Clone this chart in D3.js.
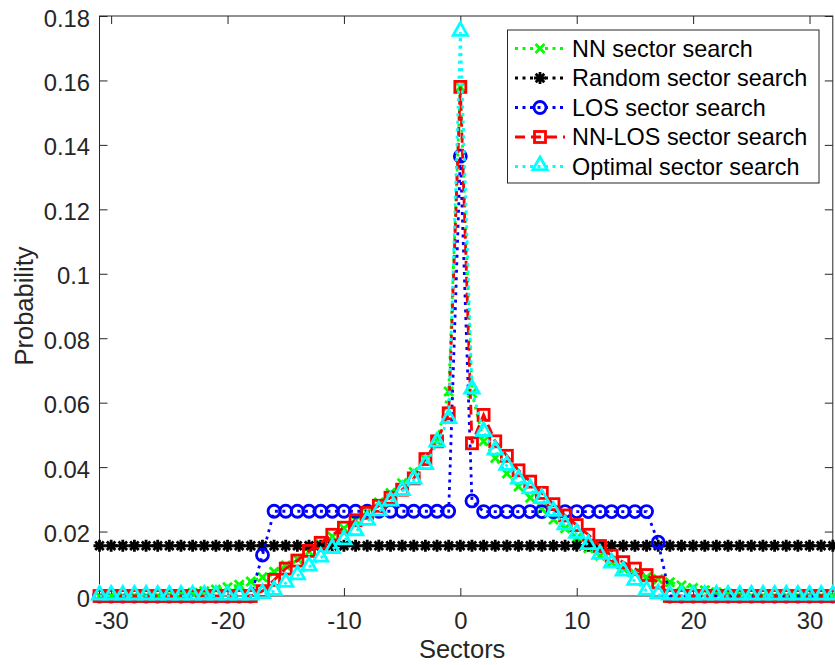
<!DOCTYPE html>
<html>
<head>
<meta charset="utf-8">
<script src="https://cdn.jsdelivr.net/npm/d3@7"></script>
<style>
  html, body { margin: 0; padding: 0; background: #fff; }
  svg { display: block; font-family: "Liberation Sans", Arial, Helvetica, sans-serif; }
</style>
</head>
<body>
<svg id="chart" width="835" height="665"></svg>
<script>
// ---------------- DATA ----------------
const sectors = [-31,-30,-29,-28,-27,-26,-25,-24,-23,-22,-21,-20,-19,-18,-17,-16,
  -15,-14,-13,-12,-11,-10,-9,-8,-7,-6,-5,-4,-3,-2,-1,0,
  1,2,3,4,5,6,7,8,9,10,11,12,13,14,15,16,
  17,18,19,20,21,22,23,24,25,26,27,28,29,30,31,32];

const nnSearch = [0,0,0,0,0,0,
  0.0002,0.0005,0.001,0.0015,0.002,0.0027,0.0035,0.0045,0.0058,0.0075,
  0.0095,0.0115,0.0137,0.016,0.0185,0.021,0.0235,0.026,0.029,0.032,
  0.035,0.0385,0.0425,0.048,0.0635,0.158,0.063,0.048,0.0428,0.038,
  0.034,0.0305,0.027,0.0237,0.021,0.018,0.0148,0.0125,0.0105,0.0085,
  0.007,0.0058,0.0052,0.0043,0.0033,0.0025,0.0018,0.0012,0.0007,0.0003,
  0,0,0,0,0,0,0,0];

const randomSearch = [0.0156,0.0156,0.0156,0.0156,0.0156,0.0156,0.0156,0.0156,
  0.0156,0.0156,0.0156,0.0156,0.0156,0.0156,0.0156,0.0156,
  0.0156,0.0156,0.0156,0.0156,0.0156,0.0156,0.0156,0.0156,
  0.0156,0.0156,0.0156,0.0156,0.0156,0.0156,0.0156,0.0156,
  0.0156,0.0156,0.0156,0.0156,0.0156,0.0156,0.0156,0.0156,
  0.0156,0.0156,0.0156,0.0156,0.0156,0.0156,0.0156,0.0156,
  0.0156,0.0156,0.0156,0.0156,0.0156,0.0156,0.0156,0.0156,
  0.0156,0.0156,0.0156,0.0156,0.0156,0.0156,0.0156,0.0156];

const losSearch = [0,0,0,0,0,0,0,0,0,0,0,0,0,0,
  0.0127,
  0.0263,0.0263,0.0263,0.0263,0.0263,0.0263,0.0263,0.0263,
  0.0263,0.0263,0.0263,0.0263,0.0263,0.0263,0.0263,0.0263,
  0.1365,0.0295,
  0.0262,0.0262,0.0262,0.0262,0.0262,0.0262,0.0262,0.0262,
  0.0262,0.0262,0.0262,0.0262,0.0262,0.0262,0.0262,
  0.0167,
  0,0,0,0,0,0,0,0,0,0,0,0,0,0,0];

const nnLosSearch = [0,0,0,0,0,0,0,0,0,0,0,0,0,0,
  0.0015,0.005,0.0085,0.011,0.014,0.0165,0.019,0.0212,0.0235,0.0258,
  0.028,0.0305,0.033,0.0365,0.0425,0.048,0.0567,
  0.158,
  0.0474,0.0562,0.048,0.0435,0.039,0.0355,0.032,0.0285,0.025,0.022,
  0.019,0.0155,0.0125,0.0105,0.0085,0.0065,0.0042,
  0,0,0,0,0,0,0,0,0,0,0,0,0,0,0];

const optimalSearch = [0,0,0,0,0,0,0,0,0,0,0,0,0,0,
  0.0005,0.0015,0.004,0.0063,0.009,0.0118,0.0145,0.0172,0.020,0.0232,
  0.0262,0.0292,0.0325,0.036,0.0405,0.0475,0.0548,
  0.175,
  0.064,0.0508,0.045,0.0403,0.036,0.033,0.030,0.026,0.0218,0.0192,
  0.0157,0.0127,0.010,0.0075,0.0046,0.0016,0.0004,
  0,0,0,0,0,0,0,0,0,0,0,0,0,0,0];

const seriesNames = ["NN sector search","Random sector search","LOS sector search","NN-LOS sector search","Optimal sector search"];
const xTicks = [-30,-20,-10,0,10,20,30];
const xTickLabels = ["-30","-20","-10","0","10","20","30"];
const yTicks = [0,0.02,0.04,0.06,0.08,0.1,0.12,0.14,0.16,0.18];
const yTickLabels = ["0","0.02","0.04","0.06","0.08","0.1","0.12","0.14","0.16","0.18"];
const xLabel = "Sectors";
const yLabel = "Probability";

// ---------------- STYLE ----------------
const axisColor = "#262626";
const tickFont = 23.8;
const labelFont = 25.5;
const legendFont = 23.4;

const styles = [
  {color:"#00ff00", dash:"3,4.5", marker:"x"},
  {color:"#000000", dash:"3,4.5", marker:"star"},
  {color:"#0000ff", dash:"3,4.5", marker:"circle"},
  {color:"#ff0000", dash:"10,6", marker:"square"},
  {color:"#00ffff", dash:"3,4.5", marker:"triangle"}
];
const allSeries = [nnSearch, randomSearch, losSearch, nnLosSearch, optimalSearch];

const svg = d3.select("#chart");
const pLeft = 99.5, pRight = 832.8, pTop = 16, pBottom = 596;

const x = d3.scaleLinear().domain([-31, 32]).range([pLeft, pRight]);
const y = d3.scaleLinear().domain([0, 0.18]).range([pBottom, pTop]);

// axes
const gx = svg.append("g").attr("transform", `translate(0,${pBottom})`)
  .call(d3.axisBottom(x).tickValues(xTicks).tickSize(-8).tickPadding(16).tickSizeOuter(0)
    .tickFormat((d,i) => xTickLabels[i]));
const gxt = svg.append("g").attr("transform", `translate(0,${pTop})`)
  .call(d3.axisTop(x).tickValues(xTicks).tickSize(-8).tickFormat("").tickSizeOuter(0));
const gy = svg.append("g").attr("transform", `translate(${pLeft},0)`)
  .call(d3.axisLeft(y).tickValues(yTicks).tickSize(-8).tickPadding(9.5).tickSizeOuter(0)
    .tickFormat((d,i) => yTickLabels[i]));
const gyr = svg.append("g").attr("transform", `translate(${pRight},0)`)
  .call(d3.axisRight(y).tickValues(yTicks).tickSize(-8).tickFormat("").tickSizeOuter(0));

[gx,gxt,gy,gyr].forEach(g => {
  g.select(".domain").remove();
  g.selectAll("line").attr("stroke", axisColor).attr("stroke-width", 1);
  g.selectAll("text").attr("fill", axisColor).attr("font-size", tickFont)
    .attr("font-family", '"Liberation Sans", Arial, sans-serif');
});
gy.selectAll("text").attr("dy", "0.42em");

// box
svg.append("rect").attr("x", pLeft).attr("y", pTop)
  .attr("width", pRight - pLeft).attr("height", pBottom - pTop)
  .attr("fill", "none").attr("stroke", axisColor).attr("stroke-width", 1);

// axis labels
svg.append("text").attr("x", (pLeft + pRight) / 2 - 4).attr("y", 658)
  .attr("text-anchor", "middle").attr("font-size", labelFont).attr("fill", axisColor)
  .text(xLabel);
svg.append("text").attr("transform", `translate(33,306) rotate(-90)`)
  .attr("text-anchor", "middle").attr("font-size", labelFont).attr("fill", axisColor)
  .text(yLabel);

// marker drawing
function drawMarker(g, type, color) {
  const sw = 2.8;
  if (type === "x") {
    g.append("path").attr("d", "M-4.5,-4.5L4.5,4.5M-4.5,4.5L4.5,-4.5")
      .attr("stroke", color).attr("stroke-width", sw).attr("fill", "none");
  } else if (type === "star") {
    g.append("path").attr("d", "M-6,0H6M0,-6V6M-4.3,-4.3L4.3,4.3M-4.3,4.3L4.3,-4.3")
      .attr("stroke", color).attr("stroke-width", 2.8).attr("fill", "none");
  } else if (type === "circle") {
    g.append("circle").attr("r", 6)
      .attr("stroke", color).attr("stroke-width", sw).attr("fill", "none");
  } else if (type === "square") {
    g.append("rect").attr("x", -5.5).attr("y", -5.5).attr("width", 11).attr("height", 11)
      .attr("stroke", color).attr("stroke-width", sw).attr("fill", "none");
  } else if (type === "triangle") {
    g.append("path").attr("d", "M0,-9.5L7.2,3.2L-7.2,3.2Z")
      .attr("stroke", color).attr("stroke-width", sw).attr("fill", "none")
      .attr("stroke-linejoin", "miter");
  }
}

const line = d3.line().x((d, i) => x(sectors[i])).y(d => y(d));

allSeries.forEach((vals, si) => {
  const st = styles[si];
  const g = svg.append("g");
  g.append("path").datum(vals).attr("d", line)
    .attr("fill", "none").attr("stroke", st.color).attr("stroke-width", 2.8)
    .attr("stroke-dasharray", st.dash);
  vals.forEach((v, i) => {
    const mg = g.append("g").attr("transform", `translate(${x(sectors[i])},${y(v)})`);
    drawMarker(mg, st.marker, st.color);
  });
});

// legend
const lg = svg.append("g");
lg.append("rect").attr("x", 507.5).attr("y", 30).attr("width", 311.5).attr("height", 153)
  .attr("fill", "#fff").attr("stroke", axisColor).attr("stroke-width", 1);
seriesNames.forEach((name, i) => {
  const ry = 48.5 + i * 29.5;
  const st = styles[i];
  lg.append("line").attr("x1", 515).attr("x2", 565).attr("y1", ry).attr("y2", ry)
    .attr("stroke", st.color).attr("stroke-width", 2.8).attr("stroke-dasharray", st.dash);
  const mg = lg.append("g").attr("transform", `translate(540,${ry})`);
  drawMarker(mg, st.marker, st.color);
  lg.append("text").attr("x", 572).attr("y", ry).attr("dy", "0.36em")
    .attr("font-size", legendFont).attr("fill", "#000").text(name);
});
</script>
</body>
</html>
